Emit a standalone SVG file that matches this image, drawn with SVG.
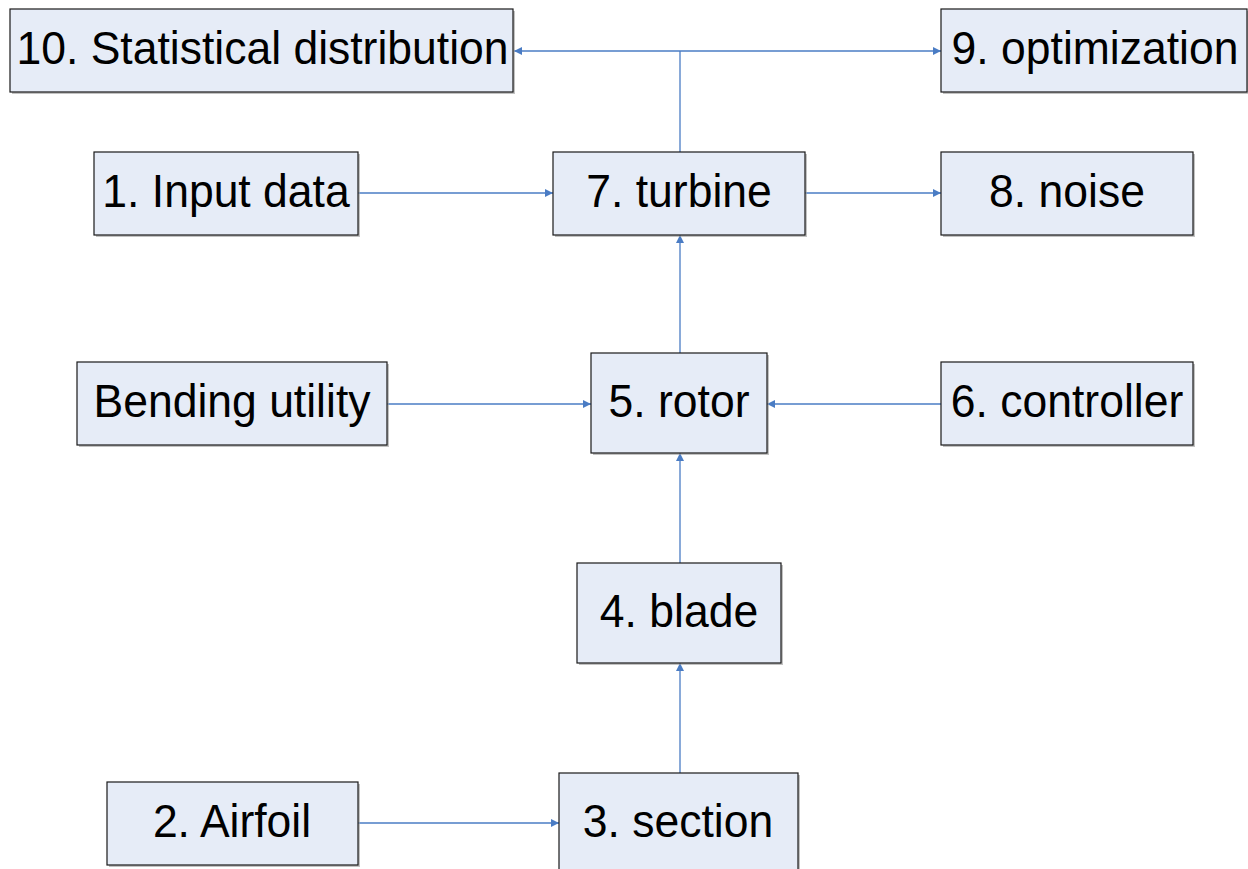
<svg xmlns="http://www.w3.org/2000/svg" width="1248" height="869" viewBox="0 0 1248 869">
  <style>
    .box { fill: #E6ECF7; stroke: #1A1A1A; stroke-width: 1.2; }
    .shadow { fill: #9A9A9A; opacity: 0.6; }
    .label { font-family: "Liberation Sans", Arial, sans-serif; font-size: 44.5px; fill: #000; text-anchor: middle; }
    .conn { stroke: #4A7CC4; stroke-width: 1.3; fill: none; }
  </style>
  <defs>
    <marker id="arrow" viewBox="0 0 10 10" refX="10" refY="5" markerWidth="10" markerHeight="8" markerUnits="userSpaceOnUse" orient="auto-start-reverse">
      <path d="M0,0 L10,5 L0,10 z" fill="#4A7CC4"/>
    </marker>
  </defs>

  <!-- connectors -->
  <g id="connectors">
    <line class="conn" x1="680" y1="152" x2="680" y2="51"/>
    <line class="conn" x1="514" y1="51" x2="941" y2="51" marker-start="url(#arrow)" marker-end="url(#arrow)"/>
    <line class="conn" x1="358" y1="193" x2="553" y2="193" marker-end="url(#arrow)"/>
    <line class="conn" x1="805" y1="193" x2="941" y2="193" marker-end="url(#arrow)"/>
    <line class="conn" x1="680" y1="353" x2="680" y2="235" marker-end="url(#arrow)"/>
    <line class="conn" x1="387" y1="404" x2="591" y2="404" marker-end="url(#arrow)"/>
    <line class="conn" x1="941" y1="404" x2="767" y2="404" marker-end="url(#arrow)"/>
    <line class="conn" x1="680" y1="563" x2="680" y2="453" marker-end="url(#arrow)"/>
    <line class="conn" x1="680" y1="773" x2="680" y2="663" marker-end="url(#arrow)"/>
    <line class="conn" x1="358" y1="823" x2="559" y2="823" marker-end="url(#arrow)"/>
  </g>

  <!-- nodes (labels drawn slightly taller than wide) -->
  <g id="n10">
    <rect class="shadow" x="12" y="11" width="503" height="83"/>
    <rect class="box" x="10" y="9" width="503" height="83"/>
    <text class="label" transform="translate(262.5,64) scale(1,1.05)">10. Statistical distribution</text>
  </g>
  <g id="n9">
    <rect class="shadow" x="943" y="11" width="306" height="83"/>
    <rect class="box" x="941" y="9" width="306" height="83"/>
    <text class="label" transform="translate(1095,64) scale(1,1.05)">9. optimization</text>
  </g>
  <g id="n1">
    <rect class="shadow" x="96" y="154" width="264" height="83"/>
    <rect class="box" x="94" y="152" width="264" height="83"/>
    <text class="label" transform="translate(226,207) scale(1,1.05)">1. Input data</text>
  </g>
  <g id="n7">
    <rect class="shadow" x="555" y="154" width="252" height="83"/>
    <rect class="box" x="553" y="152" width="252" height="83"/>
    <text class="label" transform="translate(679,207) scale(1,1.05)">7. turbine</text>
  </g>
  <g id="n8">
    <rect class="shadow" x="943" y="154" width="252" height="83"/>
    <rect class="box" x="941" y="152" width="252" height="83"/>
    <text class="label" transform="translate(1067,207) scale(1,1.05)">8. noise</text>
  </g>
  <g id="nBending">
    <rect class="shadow" x="79" y="364" width="310" height="83"/>
    <rect class="box" x="77" y="362" width="310" height="83"/>
    <text class="label" transform="translate(232,417) scale(1,1.05)">Bending utility</text>
  </g>
  <g id="n5">
    <rect class="shadow" x="593" y="355" width="176" height="100"/>
    <rect class="box" x="591" y="353" width="176" height="100"/>
    <text class="label" transform="translate(679,417) scale(1,1.05)">5. rotor</text>
  </g>
  <g id="n6">
    <rect class="shadow" x="943" y="364" width="252" height="83"/>
    <rect class="box" x="941" y="362" width="252" height="83"/>
    <text class="label" transform="translate(1067,417) scale(1,1.05)">6. controller</text>
  </g>
  <g id="n4">
    <rect class="shadow" x="579" y="565" width="204" height="100"/>
    <rect class="box" x="577" y="563" width="204" height="100"/>
    <text class="label" transform="translate(679,627) scale(1,1.05)">4. blade</text>
  </g>
  <g id="n2">
    <rect class="shadow" x="109" y="784" width="251" height="83"/>
    <rect class="box" x="107" y="782" width="251" height="83"/>
    <text class="label" transform="translate(232,837) scale(1,1.05)">2. Airfoil</text>
  </g>
  <g id="n3">
    <rect class="shadow" x="561" y="775" width="239" height="100"/>
    <rect class="box" x="559" y="773" width="239" height="100"/>
    <text class="label" transform="translate(678,837) scale(1,1.05)">3. section</text>
  </g>
</svg>
